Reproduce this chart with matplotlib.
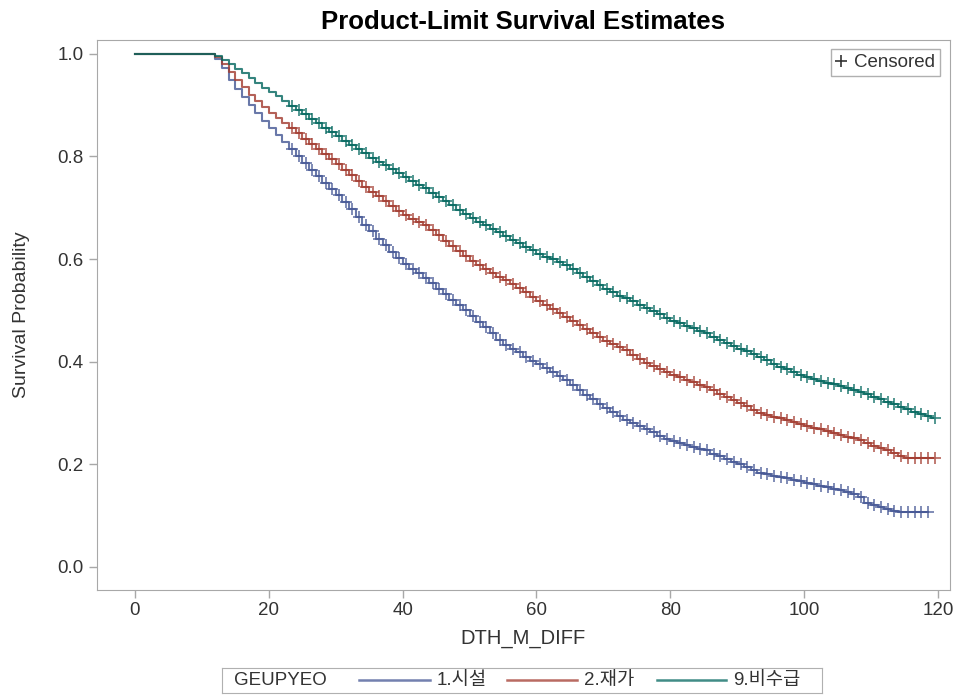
import matplotlib.pyplot as plt
from matplotlib.lines import Line2D
import numpy as np

plt.rcParams['font.family'] = ['Liberation Sans', 'Noto Sans CJK KR', 'DejaVu Sans']

# months where the curves step down (12..119)
months = list(range(12, 120))

# 1.시설
surv_1 = [0.990, 0.972, 0.950, 0.932, 0.915, 0.900, 0.885, 0.870, 0.855, 0.842,
          0.828, 0.814, 0.800, 0.787, 0.774, 0.761, 0.749, 0.737, 0.725, 0.711,
          0.697, 0.682, 0.667, 0.654, 0.640, 0.627, 0.614, 0.602, 0.590, 0.580,
          0.572, 0.564, 0.553, 0.542, 0.531, 0.520, 0.510, 0.500, 0.490, 0.478,
          0.467, 0.455, 0.443, 0.432, 0.425, 0.418, 0.410, 0.402, 0.395, 0.388,
          0.380, 0.372, 0.364, 0.355, 0.345, 0.336, 0.327, 0.318, 0.310, 0.302,
          0.294, 0.287, 0.281, 0.275, 0.269, 0.262, 0.256, 0.250, 0.245, 0.241,
          0.238, 0.234, 0.230, 0.227, 0.221, 0.216, 0.210, 0.205, 0.200, 0.195,
          0.189, 0.184, 0.181, 0.178, 0.176, 0.173, 0.170, 0.167, 0.164, 0.161,
          0.158, 0.155, 0.152, 0.149, 0.146, 0.143, 0.136, 0.125, 0.120, 0.117,
          0.113, 0.109, 0.107, 0.107, 0.107, 0.107, 0.107]
# 2.재가
surv_2 = [0.993, 0.980, 0.965, 0.950, 0.935, 0.920, 0.908, 0.896, 0.885, 0.875,
          0.865, 0.855, 0.845, 0.835, 0.825, 0.815, 0.805, 0.795, 0.785, 0.774,
          0.763, 0.752, 0.741, 0.731, 0.722, 0.713, 0.703, 0.694, 0.685, 0.679,
          0.673, 0.666, 0.656, 0.646, 0.636, 0.626, 0.616, 0.606, 0.596, 0.588,
          0.580, 0.573, 0.566, 0.559, 0.551, 0.543, 0.535, 0.527, 0.519, 0.511,
          0.503, 0.495, 0.488, 0.480, 0.472, 0.464, 0.456, 0.448, 0.440, 0.434,
          0.428, 0.422, 0.413, 0.405, 0.397, 0.391, 0.386, 0.380, 0.375, 0.370,
          0.365, 0.360, 0.355, 0.350, 0.344, 0.338, 0.332, 0.326, 0.320, 0.313,
          0.306, 0.300, 0.297, 0.293, 0.290, 0.286, 0.282, 0.278, 0.275, 0.271,
          0.268, 0.264, 0.261, 0.258, 0.254, 0.251, 0.247, 0.241, 0.236, 0.232,
          0.228, 0.222, 0.217, 0.213, 0.212, 0.212, 0.212, 0.212]
# 9.비수급
surv_9 = [0.996, 0.988, 0.980, 0.971, 0.962, 0.953, 0.943, 0.934, 0.925, 0.917,
          0.908, 0.899, 0.890, 0.882, 0.873, 0.865, 0.856, 0.848, 0.840, 0.831,
          0.823, 0.814, 0.806, 0.798, 0.790, 0.783, 0.775, 0.767, 0.760, 0.753,
          0.745, 0.738, 0.729, 0.721, 0.713, 0.705, 0.696, 0.688, 0.680, 0.673,
          0.666, 0.659, 0.652, 0.645, 0.638, 0.631, 0.624, 0.617, 0.610, 0.605,
          0.600, 0.594, 0.589, 0.581, 0.573, 0.565, 0.557, 0.549, 0.541, 0.535,
          0.529, 0.524, 0.518, 0.511, 0.505, 0.499, 0.492, 0.486, 0.480, 0.475,
          0.470, 0.465, 0.460, 0.455, 0.449, 0.443, 0.437, 0.431, 0.425, 0.420,
          0.415, 0.410, 0.403, 0.396, 0.390, 0.385, 0.380, 0.375, 0.370, 0.366,
          0.363, 0.359, 0.356, 0.352, 0.348, 0.345, 0.341, 0.337, 0.332, 0.327,
          0.322, 0.317, 0.312, 0.307, 0.302, 0.298, 0.294, 0.291]

groups = ['1.시설', '2.재가', '9.비수급']
series = [surv_1, surv_2, surv_9]
end_time = [118.5, 119.3, 119.3]
censor_start = 23
colors = ['#445694', '#A23A2E', '#01665E']

fig = plt.figure(figsize=(9.59, 6.96), dpi=100)
ax = fig.add_axes([0.101, 0.1523, 0.8896, 0.7902])

for g, s, te, c in zip(groups, series, end_time, colors):
    n = len(s)
    t = [0] + months[:n] + [te]
    y = [1.0] + s + [s[-1]]
    ax.plot(t, y, drawstyle='steps-post', color=c, lw=1.5, alpha=0.8)
    ct = [m + 0.5 for m in months[:n] if m >= censor_start]
    cy = [v for m, v in zip(months[:n], s) if m >= censor_start]
    ax.plot(ct, cy, ls='none', marker='+', ms=8, mew=1.2, color=c, alpha=0.8)

ax.set_xlim(-5.7, 121.8)
ax.set_ylim(-0.045, 1.027)
ax.set_xticks([0, 20, 40, 60, 80, 100, 120])
ax.set_yticks([0.0, 0.2, 0.4, 0.6, 0.8, 1.0])
ax.set_yticklabels(['0.0', '0.2', '0.4', '0.6', '0.8', '1.0'])
for sp in ax.spines.values():
    sp.set_color('#a8a8a8')
ax.tick_params(colors='#a8a8a8', labelcolor='#333333', labelsize=13.5, length=6, width=1)
ax.tick_params(axis='x', pad=2.5)
ax.set_xlabel('DTH_M_DIFF', fontsize=14.5, color='#333333', labelpad=7)
ax.set_ylabel('Survival Probability', fontsize=14, color='#333333', labelpad=20)
ax.set_title('Product-Limit Survival Estimates', fontsize=18.5, fontweight='bold', pad=8)

cens = Line2D([], [], ls='none', marker='+', ms=8, mew=1.2, color='#333333')
leg = ax.legend([cens], ['Censored'], loc='upper right', fontsize=13.5, handlelength=0.6,
                handletextpad=0.4, borderpad=0.25, fancybox=False, framealpha=1,
                edgecolor='#b0b0b0', bbox_to_anchor=(0.9995, 1.0))
for txt in leg.get_texts():
    txt.set_color('#333333')

# bottom legend box
lax = fig.add_axes([0.2315, 0.0043, 0.6257, 0.036])
lax.set_xlim(222, 822)
lax.set_ylim(0, 1)
lax.set_xticks([])
lax.set_yticks([])
for sp in lax.spines.values():
    sp.set_color('#b0b0b0')
lax.text(234, 0.5, 'GEUPYEO', va='center', ha='left', fontsize=13.5, color='#333333')
line_x = [(359, 430), (507, 577), (657, 726)]
for (x0, x1), g, c in zip(line_x, groups, colors):
    lax.plot([x0, x1], [0.5, 0.5], color=c, lw=1.8, alpha=0.75)
    lax.text(x1 + 7, 0.5, g, va='center', ha='left', fontsize=13.5, color='#333333')

fig.savefig('out.png', dpi=100)
